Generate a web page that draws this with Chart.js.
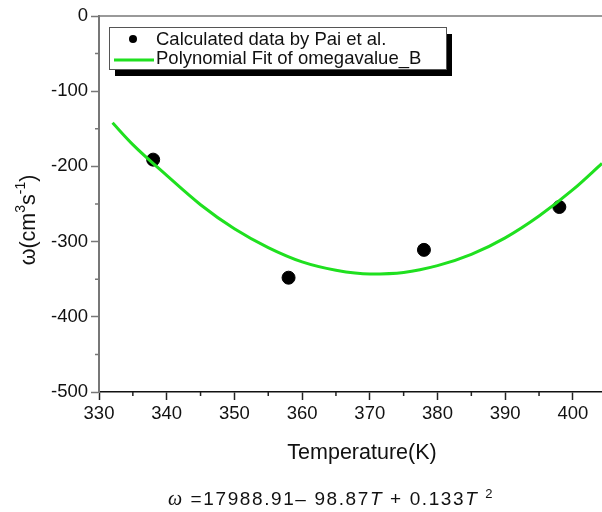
<!DOCTYPE html>
<html>
<head>
<meta charset="utf-8">
<script src="https://cdn.jsdelivr.net/npm/chart.js@4"></script>
<style>
  body { margin: 0; background: #fff; }
  #wrap { position: relative; width: 602px; height: 512px; }
  #eq {
    position: absolute; left: 168px; top: 486px;
    font: 19px "Liberation Sans", Arial, sans-serif;
    letter-spacing: 1.6px; color: #111; white-space: nowrap;
  }
  #eq .w { font-family: "Liberation Serif", serif; font-style: italic; font-size: 20px; }
  #eq i { font-style: italic; }
  #eq sup { font-size: 13px; vertical-align: 7px; }
</style>
</head>
<body>
<div id="wrap">
  <canvas id="chart" width="602" height="512"></canvas>
  <div id="eq"><span class="w">ω</span> =17988.91– 98.87<i>T</i> + 0.133<i>T</i> <sup>2</sup></div>
</div>
<script>
// omega values from Pai et al. and the quadratic fit
const calcT = [338, 358, 378, 398];
const calcW = [-191, -348, -311, -254];
const fitT = [332, 335, 340, 345, 350, 355, 360, 365, 370, 375, 380, 385, 390, 395, 400, 404.3];
const fitW = [-142, -171, -212, -251, -283, -308, -327, -338, -343, -341, -332, -317, -295, -266, -231, -196];
const xTicks = [330, 340, 350, 360, 370, 380, 390, 400];
const yTicks = [-500, -400, -300, -200, -100, 0];
const xMinor = [335, 345, 355, 365, 375, 385, 395];
const yMinor = [-450, -350, -250, -150, -50];

const FONT = '"Liberation Sans", Arial, sans-serif';
const GREEN = '#1fe01f';

// frame line, minor ticks, axis titles and the boxed legend
const decor = {
  id: 'decor',
  afterDraw(chart) {
    const { ctx, chartArea: a, scales: { x, y } } = chart;
    ctx.save();

    ctx.strokeStyle = '#777';
    ctx.lineWidth = 1.5;
    ctx.beginPath();
    ctx.moveTo(a.left, a.top);
    ctx.lineTo(a.right, a.top);
    ctx.stroke();

    ctx.lineWidth = 1.5;
    ctx.strokeStyle = '#222';
    ctx.beginPath();
    xMinor.forEach(v => {
      const px = x.getPixelForValue(v);
      ctx.moveTo(px, a.bottom);
      ctx.lineTo(px, a.bottom + 4);
    });
    ctx.stroke();
    ctx.strokeStyle = '#777';
    ctx.beginPath();
    yMinor.forEach(v => {
      const py = y.getPixelForValue(v);
      ctx.moveTo(a.left, py);
      ctx.lineTo(a.left - 4, py);
    });
    ctx.stroke();

    // x title
    ctx.fillStyle = '#111';
    ctx.font = '21.5px ' + FONT;
    ctx.textAlign = 'center';
    ctx.textBaseline = 'middle';
    ctx.fillText('Temperature(K)', 362, 453);

    // y title with superscripts
    ctx.save();
    ctx.translate(28, 220);
    ctx.rotate(-Math.PI / 2);
    const parts = [
      ['ω(cm', 21.5, 0], ['3', 14, -10], ['s', 21.5, 0], ['-1', 14, -10], [')', 21.5, 0]
    ];
    let total = 0;
    parts.forEach(p => { ctx.font = p[1] + 'px ' + FONT; total += ctx.measureText(p[0]).width; });
    let cx = -total / 2;
    ctx.textAlign = 'left';
    ctx.textBaseline = 'alphabetic';
    parts.forEach(p => {
      ctx.font = p[1] + 'px ' + FONT;
      ctx.fillText(p[0], cx, 7 + p[2]);
      cx += ctx.measureText(p[0]).width;
    });
    ctx.restore();

    // legend box with drop shadow
    const bx = 109, by = 27, bw = 337, bh = 42;
    ctx.fillStyle = '#000';
    ctx.fillRect(bx + 6, by + 7, bw, bh);
    ctx.fillStyle = '#fff';
    ctx.fillRect(bx, by, bw, bh);
    ctx.strokeStyle = '#555';
    ctx.lineWidth = 1;
    ctx.strokeRect(bx + 0.5, by + 0.5, bw, bh);

    ctx.fillStyle = '#000';
    ctx.beginPath();
    ctx.arc(133, 39, 4, 0, Math.PI * 2);
    ctx.fill();
    ctx.strokeStyle = GREEN;
    ctx.lineWidth = 3;
    ctx.beginPath();
    ctx.moveTo(114, 60);
    ctx.lineTo(154, 60);
    ctx.stroke();

    ctx.fillStyle = '#111';
    ctx.font = '18.5px ' + FONT;
    ctx.textAlign = 'left';
    ctx.textBaseline = 'alphabetic';
    ctx.fillText('Calculated data by Pai et al.', 156, 44.5);
    ctx.fillText('Polynomial Fit of omegavalue_B', 156, 64);

    ctx.restore();
  }
};

new Chart(document.getElementById('chart'), {
  data: {
    datasets: [
      {
        type: 'line',
        data: fitT.map((t, i) => ({ x: t, y: fitW[i] })),
        borderColor: GREEN,
        borderWidth: 3,
        pointRadius: 0,
        cubicInterpolationMode: 'monotone',
        fill: false
      },
      {
        type: 'scatter',
        data: calcT.map((t, i) => ({ x: t, y: calcW[i] })),
        backgroundColor: '#000',
        borderColor: '#000',
        pointRadius: 6.5
      }
    ]
  },
  plugins: [decor],
  options: {
    responsive: false,
    animation: false,
    layout: { autoPadding: false, padding: { top: 16, right: 0, left: 0, bottom: 0 } },
    plugins: { legend: { display: false }, tooltip: { enabled: false } },
    scales: {
      x: {
        type: 'linear',
        min: 330,
        max: 404.3,
        afterBuildTicks: s => { s.ticks = xTicks.map(v => ({ value: v })); },
        afterFit: s => { s.height = 120; },
        border: { color: '#111', width: 1.5 },
        grid: { drawOnChartArea: false, tickLength: 8, tickColor: '#222', tickWidth: 1.5 },
        ticks: { color: '#111', font: { size: 18.5, family: FONT }, padding: 3, maxRotation: 0 }
      },
      y: {
        type: 'linear',
        min: -500,
        max: 0,
        afterBuildTicks: s => { s.ticks = yTicks.map(v => ({ value: v })); },
        afterFit: s => { s.width = 99; },
        border: { color: '#777', width: 2 },
        grid: { drawOnChartArea: false, tickLength: 8, tickColor: '#777', tickWidth: 1.5 },
        ticks: { color: '#111', font: { size: 18.5, family: FONT }, padding: 3, callback: v => String(v) }
      }
    }
  }
});
</script>
</body>
</html>
